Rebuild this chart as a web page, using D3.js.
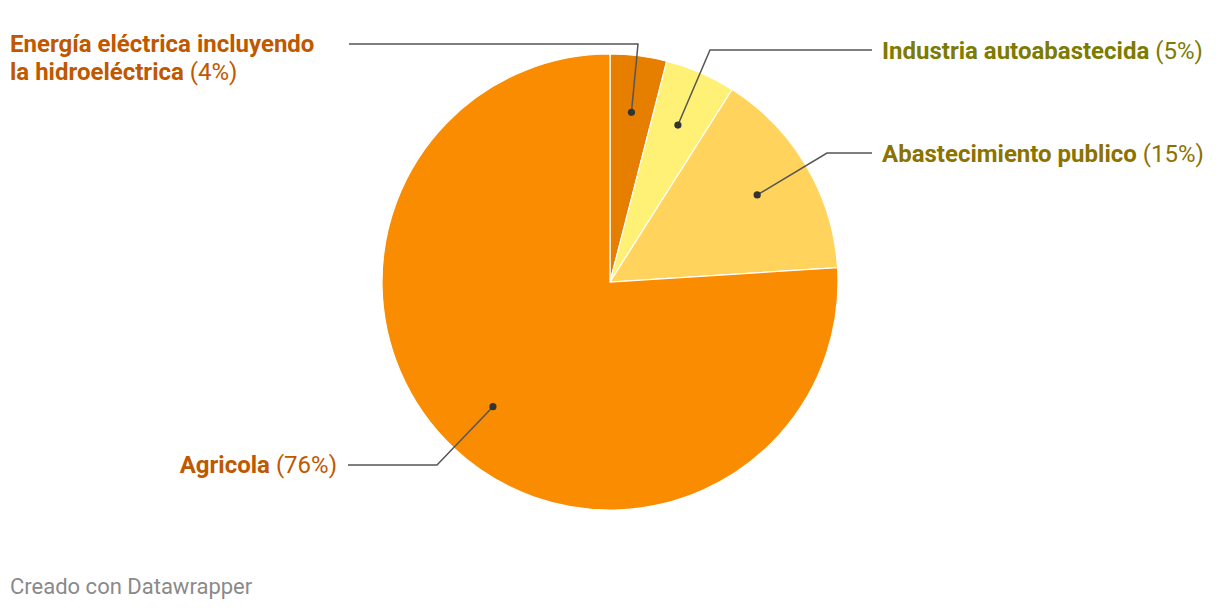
<!DOCTYPE html>
<html><head><meta charset="utf-8">
<script src="https://cdn.jsdelivr.net/npm/d3@7"></script>
<style>
body{margin:0;background:#fff;font-family:Roboto,"Noto Sans",sans-serif;}
svg{display:block}
</style></head><body>
<svg id="chart" width="1220" height="610"></svg>
<script>
const categories = ["Energía eléctrica incluyendo la hidroeléctrica", "Industria autoabastecida", "Abastecimiento publico", "Agricola"];
const values = [4, 5, 15, 76];
const sliceColors = ["#e67e00", "#fff176", "#ffd35c", "#f98c00"];
const labelColors = ["#c05800", "#7d7b00", "#8c7200", "#c05800"];
const labelLines = [["Energía eléctrica incluyendo", "la hidroeléctrica"], ["Industria autoabastecida"], ["Abastecimiento publico"], ["Agricola"]];

const svg = d3.select("#chart");
const cx = 610, cy = 282, R = 228;
const g = svg.append("g").attr("transform", `translate(${cx},${cy})`);
const data = categories.map((c, i) => ({name: c, value: values[i], i}));
const pie = d3.pie().value(d => d.value).sort(null);
const arcs = pie(data);
const arc = d3.arc().innerRadius(0).outerRadius(R);
const inner = d3.arc().innerRadius(R * 0.75).outerRadius(R * 0.75);

g.selectAll("path.slice").data(arcs).join("path")
  .attr("class", "slice")
  .attr("d", arc)
  .attr("fill", d => sliceColors[d.data.i])
  .attr("stroke", "#fff").attr("stroke-width", 1.2);

const layout = [
  {elbow: [28, -238], end: [-261, -238], side: "left", ty: -230},
  {elbow: [100, -232], end: [262, -232], side: "right", ty: -223},
  {elbow: [217, -129], end: [262, -129], side: "right", ty: -120},
  {elbow: [-173, 183], end: [-262, 183], side: "left", ty: 191}
];

arcs.forEach((a, k) => {
  const p = inner.centroid(a);
  const L = layout[k];
  g.append("path")
    .attr("d", d3.line()([p, L.elbow, L.end]))
    .attr("fill", "none").attr("stroke", "#555").attr("stroke-width", 1.5);
  g.append("circle").attr("cx", p[0]).attr("cy", p[1]).attr("r", 3.6).attr("fill", "#333");

  const lines = labelLines[k];
  const multi = L.side === "left" && lines.length > 1;
  const tx = multi ? -600 : (L.side === "left" ? L.end[0] - 11 : L.end[0] + 10);
  const anchor = multi ? "start" : (L.side === "left" ? "end" : "start");
  lines.forEach((ln, j) => {
    const t = g.append("text")
      .attr("x", tx)
      .attr("y", L.ty + j * 28)
      .attr("text-anchor", anchor)
      .attr("font-size", 24)
      .attr("fill", labelColors[k]);
    t.append("tspan").attr("font-weight", 700).text(ln);
    if (j === lines.length - 1) {
      t.append("tspan").attr("font-weight", 400).text(" (" + values[k] + "%)");
    }
  });
});

svg.append("text").attr("x", 10).attr("y", 594)
  .attr("font-size", 22).attr("fill", "#8a8a8a").text("Creado con Datawrapper");
</script>
</body></html>
